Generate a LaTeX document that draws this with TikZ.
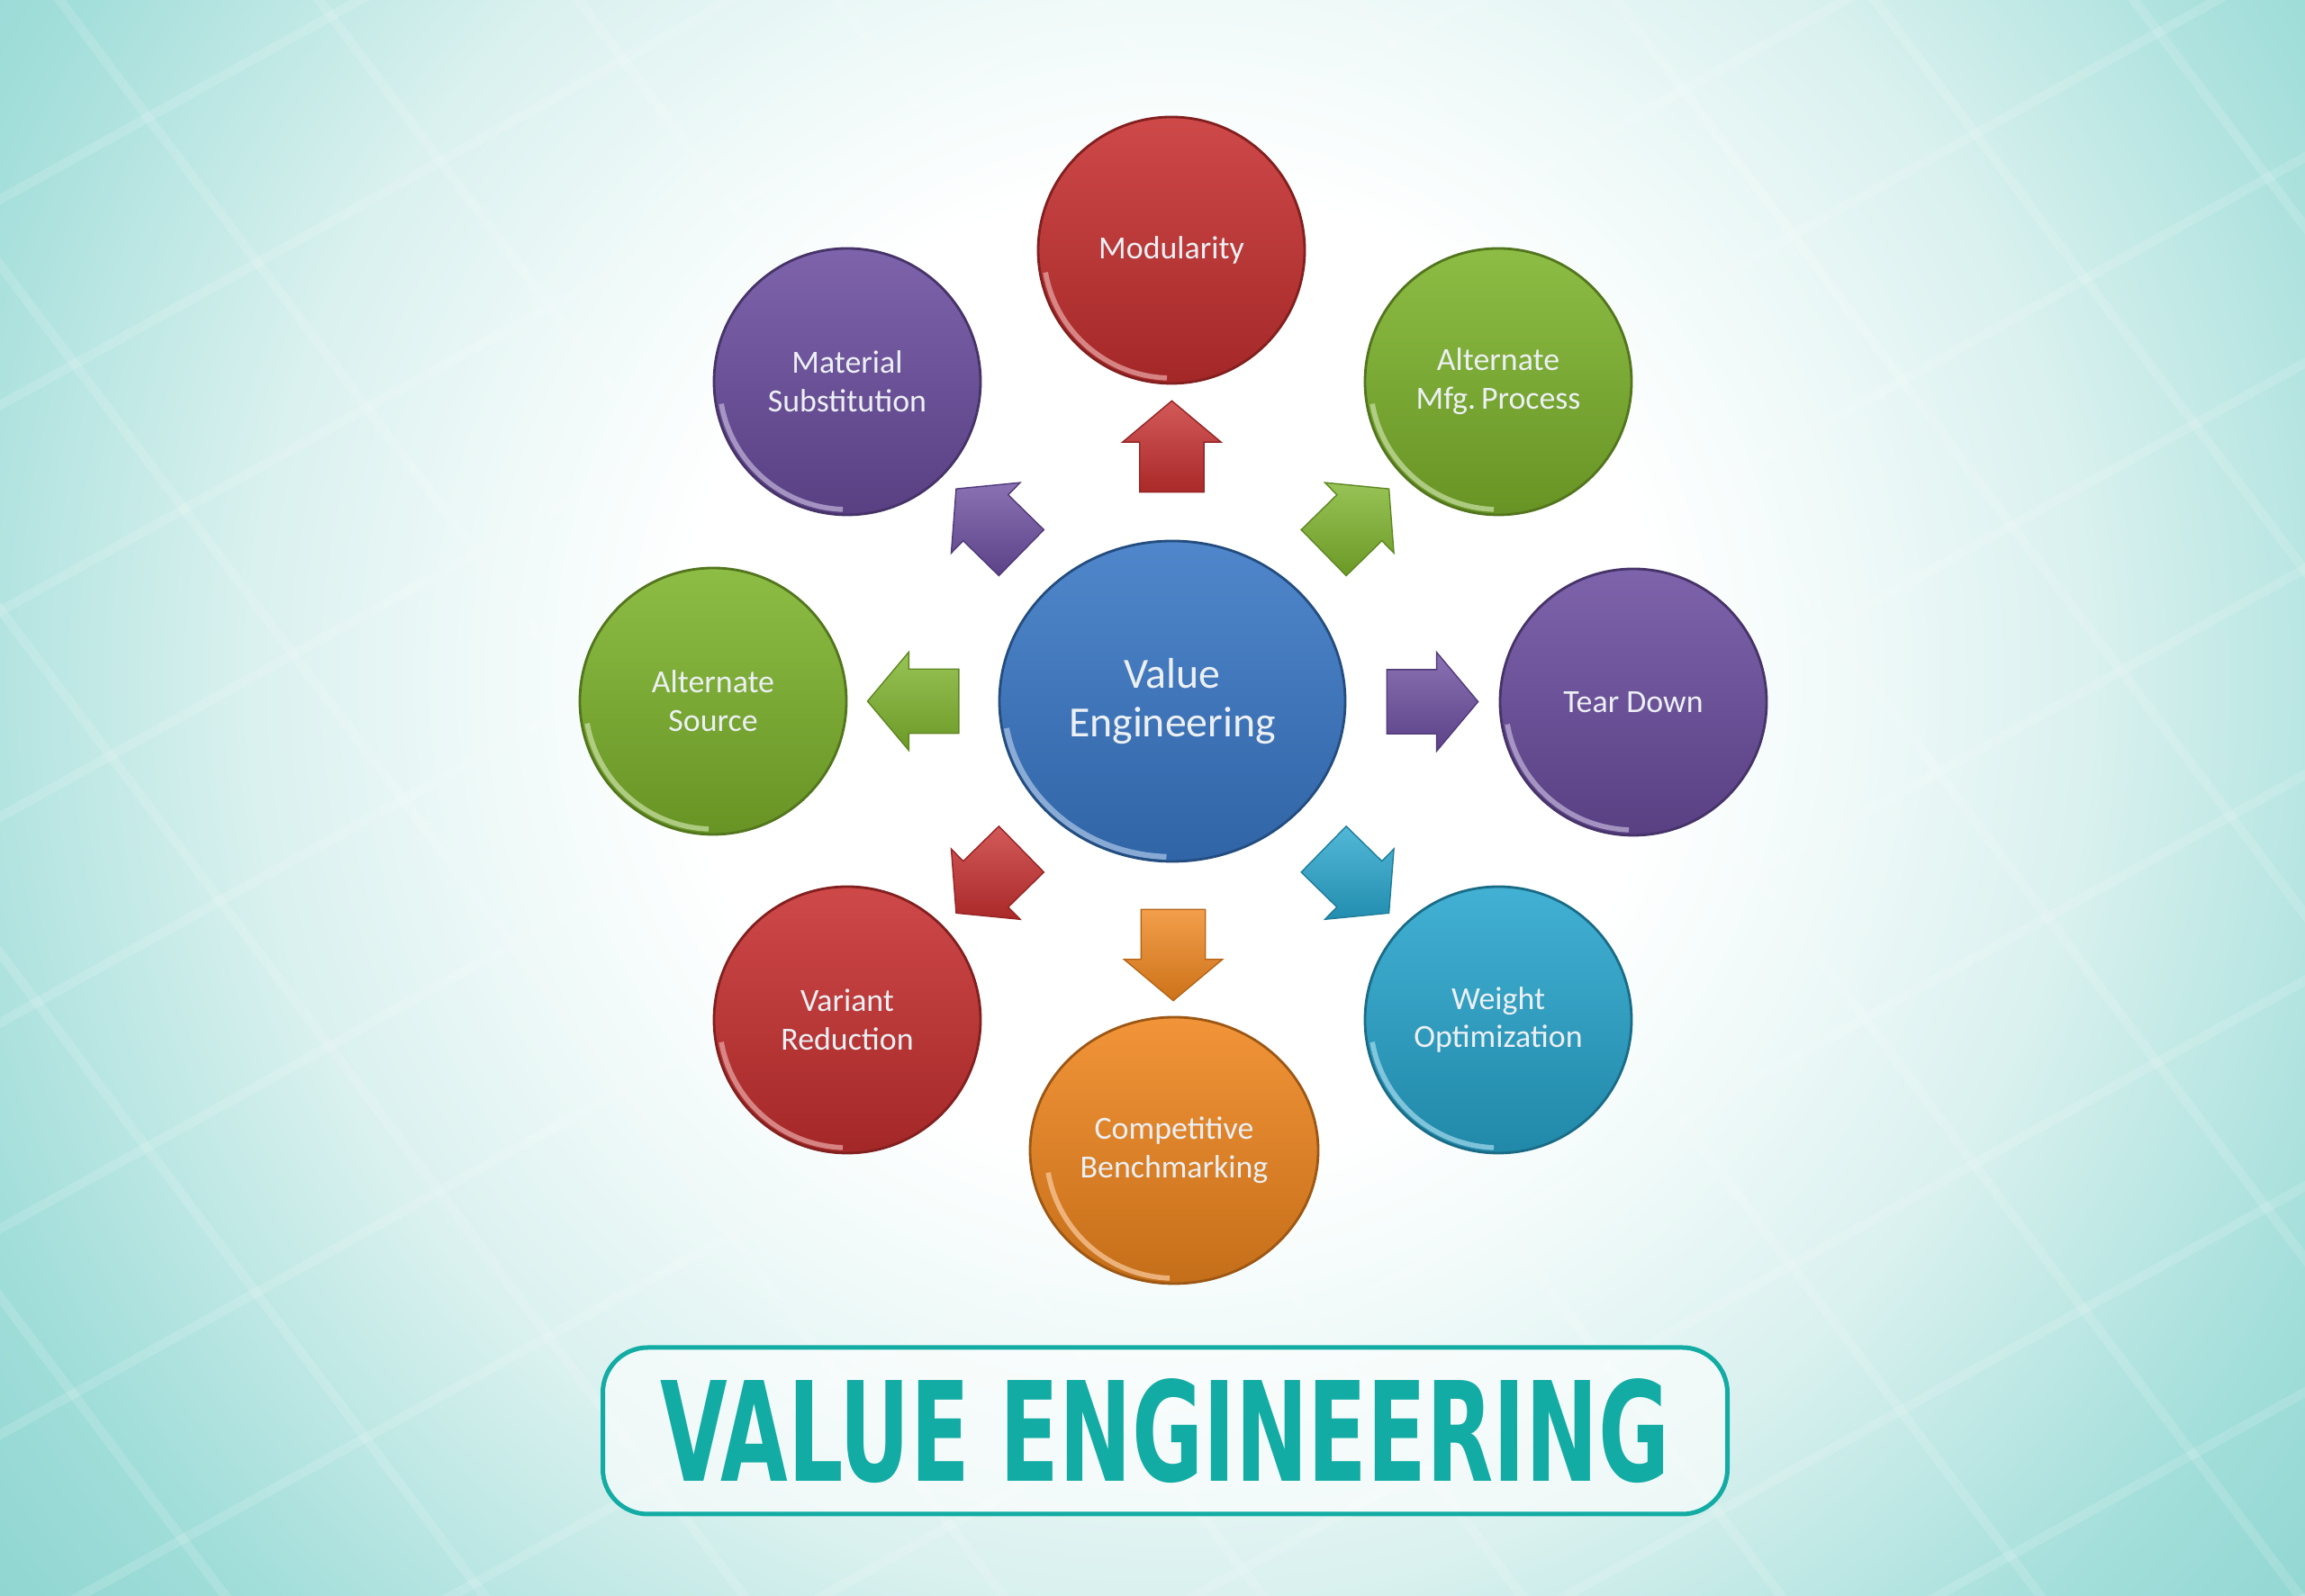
\documentclass[tikz,border=0pt]{standalone}
\usepackage{fontspec}
\setmainfont{Carlito}
\newfontfamily\titlefont{DejaVu Sans Condensed}[BoldFont={DejaVu Sans Condensed Bold}]
\usepackage{graphicx}
\usetikzlibrary{shapes.geometric, shapes.arrows, calc, positioning}

\definecolor{vered}{RGB}{200,48,48}
\definecolor{vegreen}{RGB}{126,180,44}
\definecolor{vepurple}{RGB}{108,78,160}
\definecolor{vecyan}{RGB}{40,166,206}
\definecolor{veorange}{RGB}{240,134,30}
\definecolor{veblue}{RGB}{56,118,196}
\definecolor{veteal}{RGB}{19,172,164}
\definecolor{balltxt}{RGB}{236,240,244}
\definecolor{bgA}{RGB}{240,250,249}
\definecolor{bgB}{RGB}{218,241,239}
\definecolor{bgC}{RGB}{162,222,218}
\definecolor{bgD}{RGB}{135,210,205}

\pgfdeclareradialshading{bgglow}{\pgfpoint{0bp}{0bp}}{color(0bp)=(white); color(8bp)=(white); color(11bp)=(bgA); color(15bp)=(bgB); color(21bp)=(bgC); color(26bp)=(bgD); color(50bp)=(bgD)}

\newlength{\ballsize}
\setlength{\ballsize}{2.96cm}
\newcommand{\balltext}{\fontsize{10.2pt}{12.2pt}\selectfont}
\newcommand{\hubtext}{\fontsize{13.6pt}{15.6pt}\selectfont}

\tikzstyle{crease} = [white, opacity=0.14, line width=3pt]
\tikzstyle{titlebox} = [rectangle, rounded corners=0.5cm, draw=veteal, line width=0.05cm, fill=white, fill opacity=0.6, text opacity=1, text=veteal, minimum width=12.49cm, minimum height=1.85cm, inner sep=0pt]
\tikzset{
    ball/.style={ellipse, minimum width=\ballsize, minimum height=\ballsize, inner sep=0pt, align=center, font=\balltext, text=balltxt,
        top color=#1!88!white, bottom color=#1!82!black, draw=#1!65!black, line width=0.8pt,
        path picture={\draw[#1!45!white, line width=1.6pt, opacity=0.75] ([shift={(190:1.42)}]path picture bounding box.center) arc (190:268:1.42);}},
    hubball/.style={ellipse, minimum width=3.84cm, minimum height=3.56cm, inner sep=0pt, align=center, font=\hubtext, text=balltxt,
        top color=veblue!88!white, bottom color=veblue!85!black, draw=veblue!65!black, line width=0.8pt,
        path picture={\draw[veblue!45!white, line width=1.8pt, opacity=0.75] ([shift={(190:1.87 and 1.73)}]path picture bounding box.center) arc[start angle=190, end angle=268, x radius=1.87, y radius=1.73];}},
    pointer/.style={single arrow, inner sep=0.35cm, single arrow head extend=0.19cm, single arrow tip angle=100, minimum height=0.92cm,
        top color=#1!80!white, bottom color=#1!85!black, draw=#1!75!black, line width=0.4pt}
}

\begin{document}
\begin{tikzpicture}
    \useasboundingbox (0,0) rectangle (25.6,17.73);

    % Background
    \begin{scope}
        \clip (0,0) rectangle (25.6,17.73);
        \shade[shading=bgglow] (13,10.2) circle (17cm);
        \begin{scope}[shift={(13,9)}, rotate=29]
            \foreach \k in {-12,...,12} \draw[crease] (-26,2.0*\k) -- (26,2.0*\k);
        \end{scope}
        \begin{scope}[shift={(13,9)}, rotate=-53]
            \foreach \k in {-12,...,12} \draw[crease] (-26,2.3*\k) -- (26,2.3*\k);
        \end{scope}
    \end{scope}

    % Hub
    \node (hub) [hubball] at (13.02,9.94) {Value\\Engineering};

    % Satellites
    \node (mod) [ball=vered] at ($(hub)+(-0.01,5.01)$) {Modularity};
    \node (mfg) [ball=vegreen] at ($(hub)+(3.62,3.55)$) {Alternate\\Mfg.\,Process};
    \node (tear) [ball=vepurple] at ($(hub)+(5.12,-0.01)$) {Tear Down};
    \node (weight) [ball=vecyan] at ($(hub)+(3.62,-3.54)$) {Weight\\Optimization};
    \node (bench) [ball=veorange, minimum width=3.2cm] at ($(hub)+(0.02,-4.99)$) {Competitive\\Benchmarking};
    \node (variant) [ball=vered] at ($(hub)+(-3.61,-3.54)$) {Variant\\Reduction};
    \node (source) [ball=vegreen] at ($(hub)+(-5.10,0)$) {Alternate\\Source};
    \node (material) [ball=vepurple] at ($(hub)+(-3.61,3.55)$) {Material\\Substitution};

    % Arrows
    \node (toMod) [pointer=vered, rotate=90] at ($(hub)!0.535!(mod)$) {};
    \node (toMfg) [pointer=vegreen, rotate=44.4] at ($(hub)!0.535!(mfg)$) {};
    \node (toTear) [pointer=vepurple] at ($(hub)!0.535!(tear)$) {};
    \node (toWeight) [pointer=vecyan, rotate=-44.4] at ($(hub)!0.535!(weight)$) {};
    \node (toBench) [pointer=veorange, rotate=-90] at ($(hub)!0.535!(bench)$) {};
    \node (toVariant) [pointer=vered, rotate=-135.6] at ($(hub)!0.535!(variant)$) {};
    \node (toSource) [pointer=vegreen, rotate=180] at ($(hub)!0.535!(source)$) {};
    \node (toMaterial) [pointer=vepurple, rotate=135.6] at ($(hub)!0.535!(material)$) {};

    % Title
    \node (title) [titlebox] at (12.94,1.835) {\resizebox{11.21cm}{1.14cm}{\titlefont\bfseries VALUE ENGINEERING}};

\end{tikzpicture}
\end{document}
